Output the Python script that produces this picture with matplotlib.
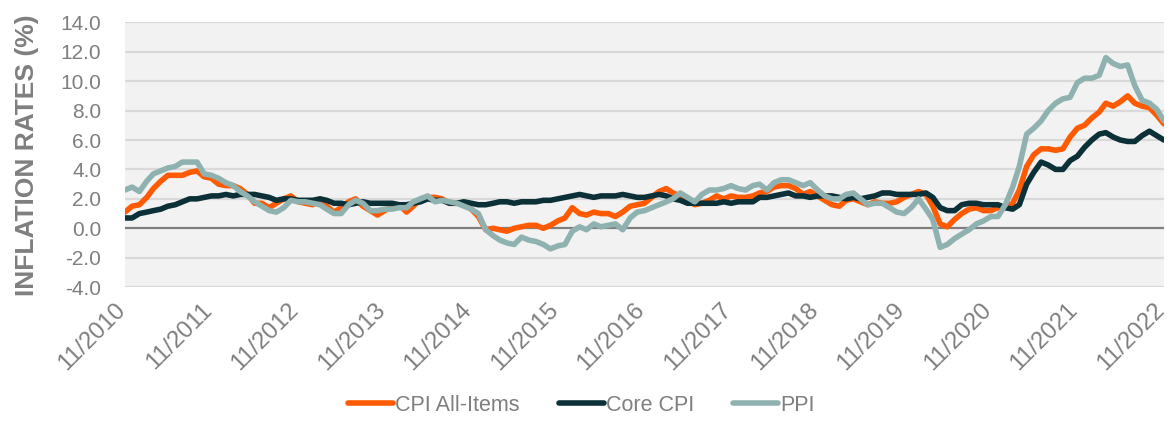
import numpy as np
import pandas as pd
import matplotlib
matplotlib.use("Agg")
import matplotlib.pyplot as plt
import matplotlib.transforms as mtransforms

plt.rcParams['font.family'] = ['Liberation Sans', 'DejaVu Sans']

# monthly, 11/2010 .. 11/2022 (year-over-year %)
months = pd.date_range('2010-11-01', '2022-11-01', freq='MS')

cpi_all = [1.1, 1.5,
           1.6, 2.1, 2.7, 3.2, 3.6, 3.6, 3.6, 3.8, 3.9, 3.5, 3.4, 3.0,
           2.9, 2.9, 2.7, 2.3, 1.7, 1.7, 1.4, 1.7, 2.0, 2.2, 1.8, 1.7,
           1.6, 2.0, 1.5, 1.1, 1.4, 1.8, 2.0, 1.5, 1.2, 0.9, 1.2, 1.5,
           1.6, 1.1, 1.5, 2.0, 2.1, 2.1, 2.0, 1.7, 1.7, 1.7, 1.3, 0.8,
           -0.1, 0.0, -0.1, -0.2, 0.0, 0.1, 0.2, 0.2, 0.0, 0.2, 0.5, 0.7,
           1.4, 1.0, 0.9, 1.1, 1.0, 1.0, 0.8, 1.1, 1.5, 1.6, 1.7, 2.1,
           2.5, 2.7, 2.4, 2.2, 1.9, 1.6, 1.7, 1.9, 2.2, 2.0, 2.2, 2.1,
           2.1, 2.2, 2.4, 2.5, 2.8, 2.9, 2.9, 2.7, 2.3, 2.5, 2.2, 1.9,
           1.6, 1.5, 1.9, 2.0, 1.8, 1.6, 1.8, 1.7, 1.7, 1.8, 2.1, 2.3,
           2.5, 2.3, 1.5, 0.3, 0.1, 0.6, 1.0, 1.3, 1.4, 1.2, 1.2, 1.4,
           1.4, 1.7, 2.6, 4.2, 5.0, 5.4, 5.4, 5.3, 5.4, 6.2, 6.8, 7.0,
           7.5, 7.9, 8.5, 8.3, 8.6, 9.0, 8.5, 8.3, 8.2, 7.7, 7.1]

core_cpi = [0.7, 0.7,
            1.0, 1.1, 1.2, 1.3, 1.5, 1.6, 1.8, 2.0, 2.0, 2.1, 2.2, 2.2,
            2.3, 2.2, 2.3, 2.3, 2.3, 2.2, 2.1, 1.9, 2.0, 2.0, 1.9, 1.9,
            1.9, 2.0, 1.9, 1.7, 1.7, 1.6, 1.7, 1.8, 1.7, 1.7, 1.7, 1.7,
            1.6, 1.6, 1.7, 1.8, 2.0, 1.9, 1.9, 1.7, 1.7, 1.8, 1.7, 1.6,
            1.6, 1.7, 1.8, 1.8, 1.7, 1.8, 1.8, 1.8, 1.9, 1.9, 2.0, 2.1,
            2.2, 2.3, 2.2, 2.1, 2.2, 2.2, 2.2, 2.3, 2.2, 2.1, 2.1, 2.2,
            2.3, 2.2, 2.0, 1.9, 1.7, 1.7, 1.7, 1.7, 1.7, 1.8, 1.7, 1.8,
            1.8, 1.8, 2.1, 2.1, 2.2, 2.3, 2.4, 2.2, 2.2, 2.1, 2.2, 2.2,
            2.2, 2.1, 2.0, 2.1, 2.0, 2.1, 2.2, 2.4, 2.4, 2.3, 2.3, 2.3,
            2.3, 2.4, 2.1, 1.4, 1.2, 1.2, 1.6, 1.7, 1.7, 1.6, 1.6, 1.6,
            1.4, 1.3, 1.6, 3.0, 3.8, 4.5, 4.3, 4.0, 4.0, 4.6, 4.9, 5.5,
            6.0, 6.4, 6.5, 6.2, 6.0, 5.9, 5.9, 6.3, 6.6, 6.3, 6.0]

ppi = [2.6, 2.8, 2.5, 3.2, 3.7, 3.9, 4.1, 4.2, 4.5, 4.5, 4.5, 3.7,
       3.6, 3.4, 3.1, 2.9, 2.5, 2.2, 1.8, 1.5, 1.2, 1.1, 1.4, 1.9,
       1.8, 1.8, 1.7, 1.6, 1.3, 1.0, 1.0, 1.6, 1.9, 1.7, 1.2, 1.2,
       1.3, 1.3, 1.4, 1.4, 1.8, 2.0, 2.2, 1.8, 1.9, 1.8, 1.7, 1.5,
       1.3, 1.0, -0.1, -0.5, -0.8, -1.0, -1.1, -0.6, -0.8, -0.9, -1.1, -1.4,
       -1.2, -1.1, -0.2, 0.1, -0.1, 0.3, 0.1, 0.2, 0.3, -0.1, 0.7, 1.1,
       1.2, 1.4, 1.6, 1.8, 2.0, 2.4, 2.1, 1.8, 2.3, 2.6, 2.6, 2.7,
       2.9, 2.7, 2.6, 2.9, 3.0, 2.6, 3.1, 3.3, 3.3, 3.1, 2.9, 3.1,
       2.6, 2.2, 2.0, 2.0, 2.3, 2.4, 2.0, 1.6, 1.7, 1.7, 1.4, 1.1,
       1.0, 1.4, 2.0, 1.3, 0.6, -1.3, -1.1, -0.7, -0.4, -0.1, 0.3, 0.5,
       0.8, 0.8, 1.6, 2.8, 4.2, 6.4, 6.8, 7.3, 8.0, 8.5, 8.8, 8.9,
       9.9, 10.2, 10.2, 10.4, 11.6, 11.2, 11.0, 11.1, 9.7, 8.7, 8.5, 8.1, 7.3]

series = [("CPI All-Items", cpi_all, "#FF5A00"),
          ("Core CPI", core_cpi, "#0B3038"),
          ("PPI", ppi, "#8FB2B0")]

fig = plt.figure(figsize=(11.7, 4.21), dpi=100)
ax = fig.add_axes([0.1068, 0.318, 0.888, 0.629])
ax.set_facecolor("#F2F2F2")

grey = "#7F7F7F"
for y in np.arange(-4, 15, 2):
    if y == 0:
        continue
    ax.axhline(y, color="#D9D9D9", lw=1.6, zorder=1)
ax.axhline(0, color="#7F7F7F", lw=1.6, zorder=2)

for name, vals, col in series:
    ax.plot(months, vals, color=col, lw=4, label=name, zorder=3,
            solid_joinstyle="round", solid_capstyle="round")

ax.set_ylim(-4, 14)
ax.set_yticks(np.arange(-4, 15, 2))
ax.set_yticklabels([f"{v:.1f}" for v in np.arange(-4, 15, 2)])
ax.set_xlim(months[0], months[-1])
xt = pd.date_range('2010-11-01', '2022-11-01', freq='12MS')
ax.set_xticks(xt)
ax.set_xticklabels([d.strftime('%m/%Y') for d in xt], rotation=45,
                   ha='right', va='center', rotation_mode='anchor')

for s in ax.spines.values():
    s.set_visible(False)
ax.tick_params(axis='both', length=0, labelsize=15, colors=grey)
ax.tick_params(axis='x', labelsize=17.3, pad=14)
ax.tick_params(axis='y', pad=17)

# nudge the slanted labels a little to the left so the last one fits
shift = mtransforms.ScaledTranslation(-3 / 100, 0, fig.dpi_scale_trans)
for lab in ax.get_xticklabels():
    lab.set_transform(lab.get_transform() + shift)

ax.set_ylabel("INFLATION RATES (%)", fontsize=19, fontweight='bold',
              color=grey)
ax.yaxis.set_label_coords(-0.083, 0.5)

leg = fig.legend(loc='center', bbox_to_anchor=(0.497, 0.038), ncol=3,
                 frameon=False, fontsize=15.5, handlelength=2.1,
                 handletextpad=0.1, columnspacing=1.8)
for t in leg.get_texts():
    t.set_color(grey)
for l in leg.get_lines():
    l.set_linewidth(4)

fig.savefig("out.png", dpi=100)
